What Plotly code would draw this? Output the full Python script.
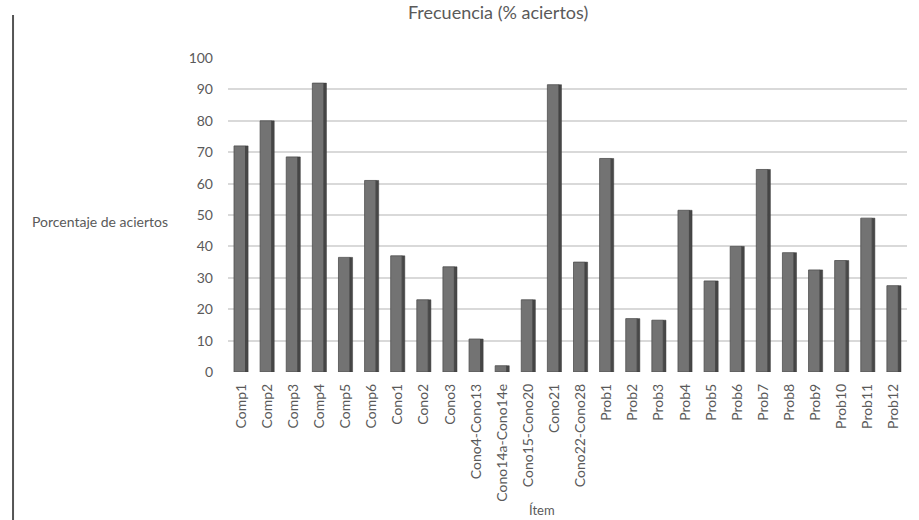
import plotly.graph_objects as go

# Items and percentage of correct answers
items = ["Comp1", "Comp2", "Comp3", "Comp4", "Comp5", "Comp6", "Cono1", "Cono2", "Cono3",
         "Cono4-Cono13", "Cono14a-Cono14e", "Cono15-Cono20", "Cono21", "Cono22-Cono28",
         "Prob1", "Prob2", "Prob3", "Prob4", "Prob5", "Prob6", "Prob7", "Prob8", "Prob9",
         "Prob10", "Prob11", "Prob12"]
aciertos = [72, 80, 68.5, 92, 36.5, 61, 37, 23, 33.5, 10.5, 2, 23, 91.5, 35,
            68, 17, 16.5, 51.5, 29, 40, 64.5, 38, 32.5, 35.5, 49, 27.5]
y_ticks = [0, 10, 20, 30, 40, 50, 60, 70, 80, 90, 100]

FONT = "Lato"
TXT = "#5a5a5a"

fig = go.Figure()
# front face of each column
fig.add_trace(go.Bar(
    x=items, y=aciertos, width=0.44, offset=-0.27,
    marker=dict(color="#737373", line=dict(color="#4f4f4f", width=0.8)),
    hoverinfo="x+y", showlegend=False,
))
# darker side face to give the columns some depth
fig.add_trace(go.Bar(
    x=items, y=aciertos, width=0.1, offset=0.17,
    marker=dict(color="#474747", line=dict(color="#3a3a3a", width=0.5)),
    hoverinfo="skip", showlegend=False,
))

fig.update_layout(
    width=919, height=520,
    margin=dict(l=228, r=12, t=58, b=148),
    paper_bgcolor="white", plot_bgcolor="white",
    barmode="overlay", bargap=0.5,
    font=dict(family=FONT, color=TXT, size=13),
    title=dict(text="Frecuencia (% aciertos)", x=0.542, xref="container",
               y=0.975, yref="container", xanchor="center", yanchor="middle",
               font=dict(family=FONT, size=18, color=TXT)),
    xaxis=dict(
        type="category", tickangle=-90, showgrid=False, zeroline=False,
        showline=False, ticks="", ticklabelstandoff=8,
        tickfont=dict(family=FONT, size=14, color=TXT),
    ),
    yaxis=dict(
        range=[0, 100], tickvals=y_ticks, showgrid=True, gridcolor="#d9d9d9",
        gridwidth=1.5, zeroline=False, showline=False, ticks="",
        ticklabelstandoff=14, tickfont=dict(family=FONT, size=14, color=TXT),
    ),
    annotations=[
        dict(text="Porcentaje de aciertos", xref="paper", yref="paper",
             x=-0.085, y=0.478, xanchor="right", yanchor="middle",
             showarrow=False, font=dict(family=FONT, size=14, color=TXT)),
        dict(text="Ítem", xref="paper", yref="paper", x=0.462, y=-0.439,
             xanchor="center", yanchor="middle", showarrow=False,
             font=dict(family=FONT, size=13, color=TXT)),
    ],
    shapes=[
        dict(type="line", xref="paper", yref="paper", x0=-0.3166, x1=-0.3166,
             y0=1.137, y1=-0.48, line=dict(color="#555555", width=2)),
    ],
)

fig.write_html("out.html")
